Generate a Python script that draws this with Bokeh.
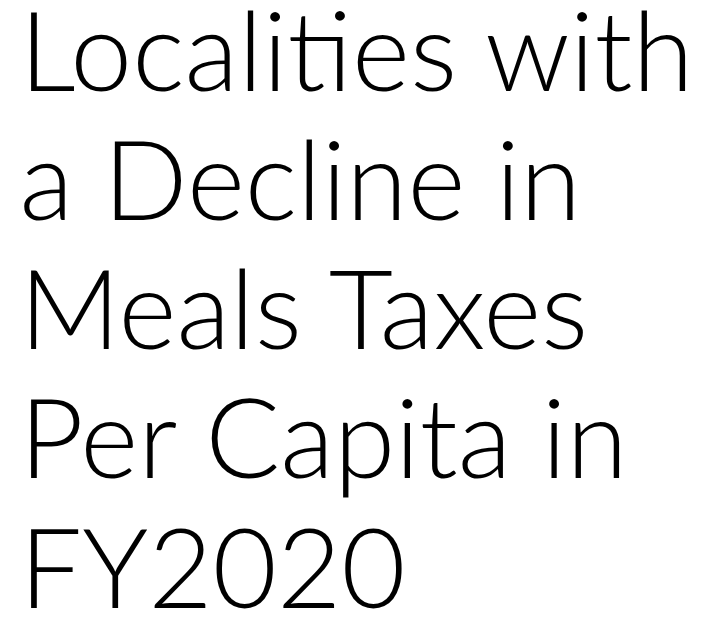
from bokeh.plotting import figure
from bokeh.models import ColumnDataSource, Range1d
from bokeh.core.properties import value
from bokeh.embed import file_html
from bokeh.resources import INLINE

# Title text lines (the chart consists only of this heading)
title_lines = ["Localities with", "a Decline in", "Meals Taxes", "Per Capita in", "FY2020"]

W, H = 700, 613
first_baseline = 47
line_step = 129.25
left = 19

p = figure(width=W, height=H, output_backend="svg", toolbar_location=None,
           x_range=Range1d(0, W), y_range=Range1d(H, 0),
           min_border=0, outline_line_color=None, background_fill_color="white",
           border_fill_color="white")
p.axis.visible = False
p.xgrid.visible = False
p.ygrid.visible = False

src = ColumnDataSource(dict(
    x=[left] * len(title_lines),
    y=[first_baseline + i * line_step for i in range(len(title_lines))],
    t=title_lines,
))
p.text(x="x", y="y", text="t", source=src, text_font=value("Lato Light"),
       text_font_size="111px", text_color="black", text_baseline="alphabetic",
       text_align="left")

open("out.html", "w").write(file_html(p, INLINE))
